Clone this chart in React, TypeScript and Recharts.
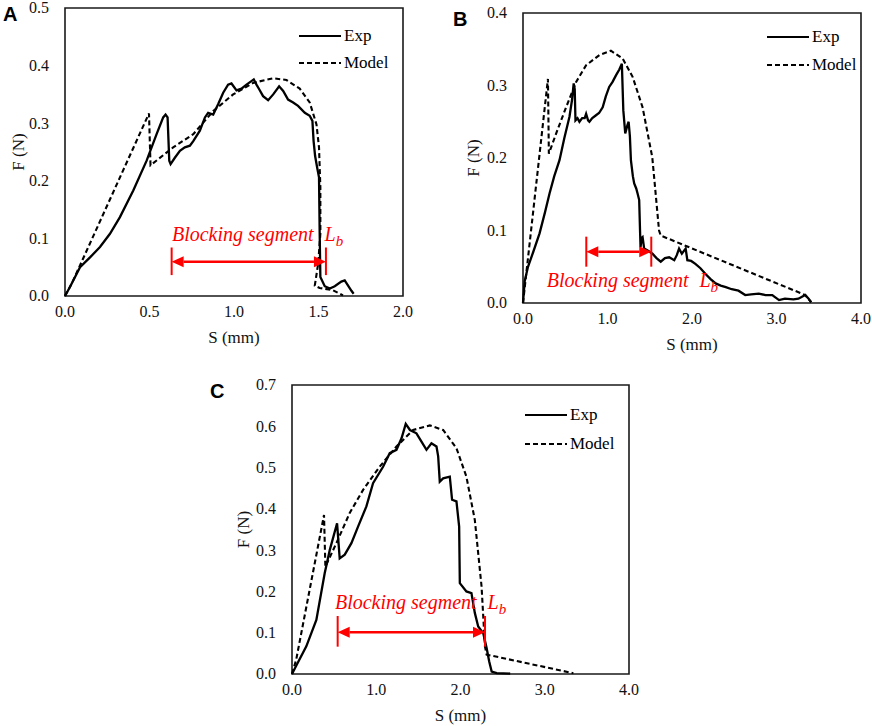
import React from "react";
import {
  Legend,
  Line,
  LineChart,
  ReferenceArea,
  ReferenceDot,
  ReferenceLine,
  XAxis,
  YAxis,
} from "recharts";

// [S (mm), F (N)] pairs
const expA = [
  [0, 0], [0.03, 0.016], [0.089, 0.05], [0.148, 0.067], [0.207, 0.085], [0.266, 0.108],
  [0.325, 0.137], [0.404, 0.183], [0.483, 0.235], [0.542, 0.281], [0.581, 0.31], [0.595, 0.315],
  [0.607, 0.31], [0.617, 0.235], [0.625, 0.229], [0.65, 0.24], [0.68, 0.252], [0.709, 0.258],
  [0.739, 0.261], [0.759, 0.269], [0.798, 0.287], [0.828, 0.31], [0.847, 0.318], [0.877, 0.315],
  [0.906, 0.333], [0.936, 0.353], [0.965, 0.367], [0.985, 0.369], [1.015, 0.357], [1.044, 0.36],
  [1.074, 0.367], [1.103, 0.373], [1.117, 0.376], [1.133, 0.367], [1.149, 0.359], [1.172, 0.347],
  [1.202, 0.34], [1.232, 0.35], [1.267, 0.364], [1.291, 0.356], [1.32, 0.341], [1.35, 0.336],
  [1.379, 0.33], [1.419, 0.318], [1.448, 0.313], [1.464, 0.304], [1.471, 0.269], [1.48, 0.243],
  [1.492, 0.223], [1.503, 0.206], [1.507, 0.108], [1.511, 0.033], [1.537, 0.017], [1.567, 0.013],
  [1.596, 0.017], [1.635, 0.025], [1.655, 0.027], [1.675, 0.018], [1.695, 0.009], [1.708, 0.004],
];
const modelA = [
  [0, 0], [0.039, 0.021], [0.497, 0.317], [0.506, 0.227], [0.64, 0.258], [0.759, 0.281],
  [0.877, 0.321], [0.995, 0.35], [1.113, 0.37], [1.232, 0.378], [1.31, 0.375], [1.389, 0.36],
  [1.448, 0.336], [1.488, 0.298], [1.503, 0.258], [1.511, 0.189], [1.511, 0.108], [1.498, 0.056],
  [1.478, 0.018], [1.507, 0.014], [1.586, 0.01], [1.645, 0.001],
];

const expB = [
  [0, 0], [0.02, 0.03], [0.059, 0.05], [0.12, 0.07], [0.196, 0.096], [0.26, 0.125], [0.314, 0.151],
  [0.37, 0.175], [0.432, 0.197], [0.49, 0.228], [0.55, 0.257], [0.58, 0.28], [0.6, 0.303],
  [0.612, 0.295], [0.621, 0.252], [0.645, 0.255], [0.668, 0.25], [0.7, 0.255], [0.73, 0.255],
  [0.747, 0.261], [0.77, 0.252], [0.786, 0.25], [0.82, 0.255], [0.864, 0.259], [0.9, 0.262],
  [0.943, 0.27], [0.98, 0.285], [1.02, 0.298], [1.06, 0.305], [1.1, 0.314], [1.14, 0.322],
  [1.17, 0.33], [1.187, 0.266], [1.21, 0.234], [1.235, 0.245], [1.25, 0.25], [1.265, 0.23],
  [1.277, 0.197], [1.3, 0.175], [1.316, 0.165], [1.34, 0.158], [1.356, 0.151], [1.375, 0.142],
  [1.385, 0.1], [1.391, 0.077], [1.405, 0.09], [1.415, 0.091], [1.434, 0.075], [1.48, 0.072],
  [1.532, 0.068], [1.58, 0.062], [1.63, 0.057], [1.68, 0.062], [1.73, 0.063], [1.79, 0.059],
  [1.82, 0.066], [1.847, 0.075], [1.88, 0.068], [1.925, 0.075], [1.945, 0.059], [1.99, 0.058],
  [2.04, 0.054], [2.1, 0.048], [2.16, 0.04], [2.22, 0.033], [2.28, 0.027], [2.34, 0.024],
  [2.4, 0.022], [2.47, 0.019], [2.55, 0.017], [2.63, 0.011], [2.7, 0.012], [2.79, 0.013],
  [2.87, 0.011], [2.95, 0.011], [3.03, 0.004], [3.1, 0.006], [3.2, 0.005], [3.26, 0.006],
  [3.34, 0.011], [3.38, 0.006], [3.41, 0.001],
];
const modelB = [
  [0, 0], [0.295, 0.309], [0.306, 0.206], [0.393, 0.234], [0.51, 0.27], [0.629, 0.305],
  [0.747, 0.328], [0.904, 0.342], [1.04, 0.348], [1.18, 0.337], [1.297, 0.312], [1.415, 0.27],
  [1.53, 0.201], [1.61, 0.1], [1.63, 0.093], [3.34, 0.011], [3.41, 0.001],
];

const expC = [
  [0, 0], [0.05, 0.02], [0.17, 0.067], [0.289, 0.131], [0.388, 0.244], [0.448, 0.3], [0.535, 0.365],
  [0.566, 0.28], [0.626, 0.289], [0.705, 0.317], [0.784, 0.357], [0.883, 0.406], [0.962, 0.462],
  [1.081, 0.502], [1.16, 0.535], [1.24, 0.543], [1.3, 0.571], [1.35, 0.606], [1.4, 0.591],
  [1.477, 0.583], [1.537, 0.563], [1.596, 0.543], [1.655, 0.559], [1.715, 0.551], [1.735, 0.527],
  [1.754, 0.466], [1.794, 0.474], [1.873, 0.478], [1.9, 0.422], [1.952, 0.418], [1.984, 0.357],
  [1.992, 0.22], [2.07, 0.2], [2.13, 0.196], [2.17, 0.148], [2.21, 0.115], [2.27, 0.099],
  [2.31, 0.063], [2.34, 0.031], [2.37, 0.006], [2.43, 0.002], [2.59, 0.001],
];
const modelC = [
  [0, 0], [0.05, 0.035], [0.38, 0.385], [0.396, 0.26], [0.527, 0.317], [0.685, 0.39],
  [0.844, 0.446], [1.04, 0.502], [1.24, 0.551], [1.437, 0.591], [1.636, 0.602], [1.794, 0.591],
  [1.952, 0.547], [2.07, 0.478], [2.17, 0.373], [2.25, 0.212], [2.29, 0.067], [2.31, 0.047],
  [3.34, 0.002],
];

const ticksA_x = [0, 0.5, 1, 1.5, 2];
const ticksA_y = [0, 0.1, 0.2, 0.3, 0.4, 0.5];
const ticksB_x = [0, 1, 2, 3, 4];
const ticksB_y = [0, 0.1, 0.2, 0.3, 0.4];
const ticksC_x = [0, 1, 2, 3, 4];
const ticksC_y = [0, 0.1, 0.2, 0.3, 0.4, 0.5, 0.6, 0.7];

const RED = "#ff0000";
const SERIF = '"Liberation Serif", "Times New Roman", serif';
const serifStyle = { fontFamily: SERIF };

const toRows = (pairs: number[][]) => pairs.map(([s, f]) => ({ s, f }));

const ArrowShape = (props: any) => {
  const { x1, y1, x2 } = props;
  const head = 12;
  const hw = 5.5;
  return (
    <g>
      <line x1={x1 + head} y1={y1} x2={x2 - head} y2={y1} stroke={RED} strokeWidth={2.5} />
      <polygon points={`${x1},${y1} ${x1 + head},${y1 - hw} ${x1 + head},${y1 + hw}`} fill={RED} />
      <polygon points={`${x2},${y1} ${x2 - head},${y1 - hw} ${x2 - head},${y1 + hw}`} fill={RED} />
    </g>
  );
};

const BlockLabel = (props: any) => (
  <text x={props.cx} y={props.cy} fill={RED} style={{ ...serifStyle, fontStyle: "italic", fontSize: 20 }}>
    <tspan>Blocking segment</tspan>
    <tspan dx={11}>L</tspan>
    <tspan dy={5} style={{ fontSize: 15 }}>b</tspan>
  </text>
);

const XTick = ({ x, y, payload, size }: any) => (
  <text x={x} y={y} dy="0.71em" textAnchor="middle" fill="#111" style={{ ...serifStyle, fontSize: size }}>
    {Number(payload.value).toFixed(1)}
  </text>
);

const YTick = ({ x, y, payload, size }: any) => (
  <text x={x} y={y} dy="0.34em" textAnchor="end" fill="#111" style={{ ...serifStyle, fontSize: size }}>
    {Number(payload.value).toFixed(1)}
  </text>
);

const LegendBox = ({ payload, rowH }: any) => (
  <div style={{ fontFamily: SERIF, fontSize: 17, color: "#000" }}>
    {(payload || []).map((entry: any) => (
      <div key={entry.value} style={{ display: "flex", alignItems: "center", height: rowH }}>
        <svg width={42} height={6} style={{ marginRight: 3 }}>
          <line
            x1={0}
            y1={3}
            x2={42}
            y2={3}
            stroke="#000"
            strokeWidth={2.2}
            strokeDasharray={entry.payload?.strokeDasharray}
          />
        </svg>
        <span>{entry.value}</span>
      </div>
    ))}
  </div>
);

type PanelProps = {
  letter: string;
  letterPos: { left: number; top: number };
  pos: { left: number; top: number; width: number; height: number };
  margin: { top: number; right: number };
  yAxisWidth: number;
  xAxisHeight: number;
  yTitleX: number;
  tickFont: number;
  exp: number[][];
  model: number[][];
  xTicks: number[];
  yTicks: number[];
  legendPos: { left: number; top: number; rowH: number };
  arrow: { x1: number; x2: number; y: number; lo: number; hi: number };
  label: { x: number; y: number };
};

const Panel = (p: PanelProps) => {
  const xMax = p.xTicks[p.xTicks.length - 1];
  const yMax = p.yTicks[p.yTicks.length - 1];
  return (
    <>
      <div
        style={{
          position: "absolute",
          left: p.letterPos.left,
          top: p.letterPos.top,
          fontFamily: '"Liberation Sans", Arial, sans-serif',
          fontWeight: 700,
          fontSize: 20,
          lineHeight: "20px",
        }}
      >
        {p.letter}
      </div>
      <div style={{ position: "absolute", left: p.pos.left, top: p.pos.top, fontFamily: SERIF }}>
        <LineChart
          width={p.pos.width}
          height={p.pos.height}
          margin={{ top: p.margin.top, right: p.margin.right, left: 0, bottom: 0 }}
        >
          <XAxis
            dataKey="s"
            type="number"
            domain={[0, xMax]}
            ticks={p.xTicks}
            tick={<XTick size={p.tickFont} />}
            tickLine={false}
            axisLine={false}
            tickSize={0}
            tickMargin={10}
            height={p.xAxisHeight}
            interval={0}
            label={(lp: any) => {
              const vb = lp.viewBox || {};
              return (
                <text
                  x={vb.x + vb.width / 2}
                  y={vb.y + 41}
                  textAnchor="middle"
                  dominantBaseline="central"
                  fill="#111"
                  style={{ ...serifStyle, fontSize: 17 }}
                >
                  S (mm)
                </text>
              );
            }}
          />
          <YAxis
            type="number"
            domain={[0, yMax]}
            ticks={p.yTicks}
            tick={<YTick size={p.tickFont} />}
            tickLine={false}
            axisLine={false}
            tickSize={0}
            tickMargin={16}
            width={p.yAxisWidth}
            interval={0}
            label={(lp: any) => {
              const vb = lp.viewBox || {};
              const cy = vb.y + vb.height / 2;
              return (
                <text
                  x={p.yTitleX}
                  y={cy}
                  transform={`rotate(-90 ${p.yTitleX} ${cy})`}
                  textAnchor="middle"
                  dominantBaseline="central"
                  fill="#111"
                  style={{ ...serifStyle, fontSize: 17 }}
                >
                  F (N)
                </text>
              );
            }}
          />
          <Legend
            layout="horizontal"
            verticalAlign="middle"
            align="center"
            wrapperStyle={{ left: p.legendPos.left, top: p.legendPos.top, width: 130 }}
            content={(lp: any) => <LegendBox payload={lp.payload} rowH={p.legendPos.rowH} />}
          />
          <ReferenceArea x1={0} x2={xMax} y1={0} y2={yMax} fill="none" stroke="#1a1a1a" strokeWidth={1.6} />
          <Line
            data={toRows(p.model)}
            dataKey="f"
            name="Model"
            type="linear"
            stroke="#000"
            strokeWidth={2.1}
            strokeDasharray="5 3"
            dot={false}
            isAnimationActive={false}
          />
          <Line
            data={toRows(p.exp)}
            dataKey="f"
            name="Exp"
            type="linear"
            stroke="#000"
            strokeWidth={2.3}
            dot={false}
            isAnimationActive={false}
          />
          <ReferenceLine
            segment={[{ x: p.arrow.x1, y: p.arrow.lo }, { x: p.arrow.x1, y: p.arrow.hi }]}
            stroke={RED}
            strokeWidth={2}
          />
          <ReferenceLine
            segment={[{ x: p.arrow.x2, y: p.arrow.lo }, { x: p.arrow.x2, y: p.arrow.hi }]}
            stroke={RED}
            strokeWidth={2}
          />
          <ReferenceLine
            segment={[{ x: p.arrow.x1, y: p.arrow.y }, { x: p.arrow.x2, y: p.arrow.y }]}
            shape={ArrowShape}
          />
          <ReferenceDot x={p.label.x} y={p.label.y} r={1} shape={BlockLabel} />
        </LineChart>
      </div>
    </>
  );
};

export default function App() {
  return (
    <div
      style={{
        position: "absolute",
        left: 0,
        top: 0,
        width: 872,
        height: 726,
        background: "#fff",
        overflow: "hidden",
        fontFamily: SERIF,
      }}
    >
      <Panel
        letter="A"
        letterPos={{ left: 3, top: 4 }}
        pos={{ left: 0, top: 0, width: 440, height: 350 }}
        margin={{ top: 8, right: 37 }}
        yAxisWidth={65}
        xAxisHeight={54}
        yTitleX={18}
        tickFont={16}
        exp={expA}
        model={modelA}
        xTicks={ticksA_x}
        yTicks={ticksA_y}
        legendPos={{ left: 299, top: 22, rowH: 27 }}
        arrow={{ x1: 0.631, x2: 1.544, y: 0.0593, lo: 0.0363, hi: 0.0842 }}
        label={{ x: 0.633, y: 0.0957 }}
      />
      <Panel
        letter="B"
        letterPos={{ left: 453, top: 9 }}
        pos={{ left: 440, top: 0, width: 432, height: 357 }}
        margin={{ top: 13, right: 11 }}
        yAxisWidth={83}
        xAxisHeight={54}
        yTitleX={33}
        tickFont={16}
        exp={expB}
        model={modelB}
        xTicks={ticksB_x}
        yTicks={ticksB_y}
        legendPos={{ left: 327, top: 23, rowH: 28 }}
        arrow={{ x1: 0.749, x2: 1.518, y: 0.0708, lo: 0.0501, hi: 0.0915 }}
        label={{ x: 0.282, y: 0.0225 }}
      />
      <Panel
        letter="C"
        letterPos={{ left: 210, top: 381 }}
        pos={{ left: 230, top: 370, width: 420, height: 356 }}
        margin={{ top: 15, right: 21 }}
        yAxisWidth={62}
        xAxisHeight={52}
        yTitleX={13}
        tickFont={16}
        exp={expC}
        model={modelC}
        xTicks={ticksC_x}
        yTicks={ticksC_y}
        legendPos={{ left: 295, top: 30, rowH: 29 }}
        arrow={{ x1: 0.542, x2: 2.291, y: 0.101, lo: 0.0662, hi: 0.1405 }}
        label={{ x: 0.51, y: 0.1567 }}
      />
    </div>
  );
}
